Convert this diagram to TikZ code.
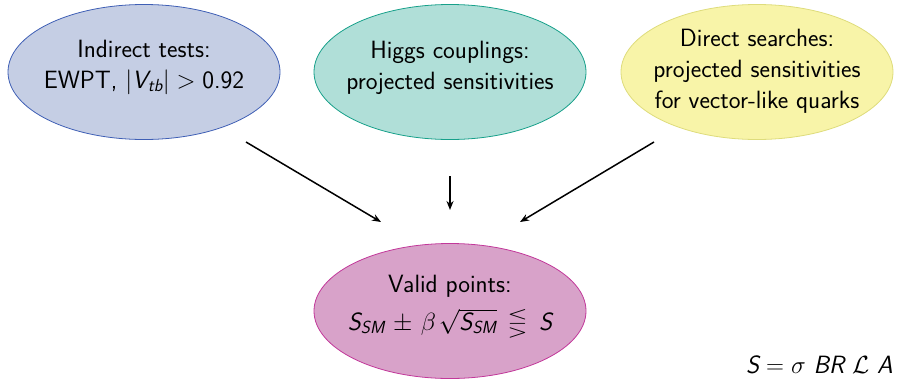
\documentclass[tikz,border=0pt]{standalone}
\usepackage{amsmath,amssymb,graphicx}
\usepackage{fontspec}
\usetikzlibrary{shapes.geometric,arrows.meta}
\definecolor{blfill}{HTML}{C5CEE4}
\definecolor{bldraw}{HTML}{3F5FB5}
\definecolor{tlfill}{HTML}{B0DFD8}
\definecolor{tldraw}{HTML}{17A08A}
\definecolor{ylfill}{HTML}{F8F4A8}
\definecolor{yldraw}{HTML}{DEDC7C}
\definecolor{mgfill}{HTML}{D8A2C9}
\definecolor{mgdraw}{HTML}{C2389A}
\newcommand{\mylesg}{\mathrel{\vcenter{\hbox{\scalebox{1.05}[0.9]{$\lesseqgtr$}}}}}
\begin{document}
\begin{tikzpicture}[x=1pt,y=-1pt,
  blob/.style={ellipse,minimum width=272pt,minimum height=135pt,inner sep=0pt,line width=0.8pt},
  txt/.style={align=center,inner sep=0pt,font=\sffamily\fontsize{25}{31}\selectfont},
  conn/.style={line width=1.5pt,-{Stealth[length=9pt,width=7pt]}}]
\useasboundingbox (0,0) rectangle (904,381);
\node[blob,fill=blfill,draw=bldraw] (ind) at (144,72) {};
\node[blob,fill=tlfill,draw=tldraw] (hig) at (450,72) {};
\node[blob,fill=ylfill,draw=yldraw] (dir) at (757,72) {};
\node[blob,fill=mgfill,draw=mgdraw] (val) at (450,311) {};
\node[txt] (indt) at (144,67) {Indirect tests:\\EWPT, $|\textit{V}_{\textit{tb}}|>\text{0.92}$};
\node[txt] (higt) at (450,68) {Higgs couplings:\\projected sensitivities};
\node[txt] (dirt) at (757,71) {Direct searches:\\projected sensitivities\\for vector-like quarks};
\node[txt,anchor=base] (valt) at (450,292) {Valid points:};
\node[txt,anchor=base] (vale) at (450,330) {$\textit{S}_{\textit{SM}}\mskip2mu\pm\mskip2mu\beta\mskip2mu\sqrt{\textit{S}_{\textit{SM}}}\mskip3mu\mylesg\mskip3mu \textit{S}$};
\node[txt,anchor=south east] (eq) at (893,374) {$\textit{S} = \sigma\ \textit{BR}\ \mathcal{L}\ \textit{A}$};
\coordinate (a1) at (246,142); \coordinate (b1) at (381,222);
\coordinate (a2) at (450,176); \coordinate (b2) at (450,210);
\coordinate (a3) at (654,142); \coordinate (b3) at (520,222);
\draw[conn] (a1) -- (b1);
\draw[conn] (a2) -- (b2);
\draw[conn] (a3) -- (b3);
\end{tikzpicture}
\end{document}
